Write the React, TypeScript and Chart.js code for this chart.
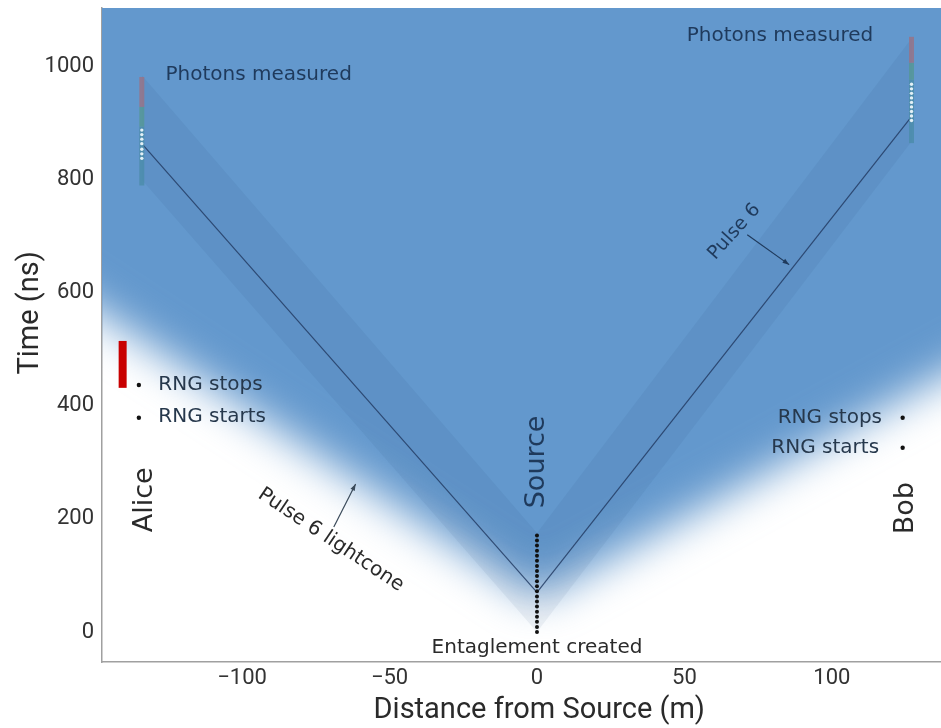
import React, { useEffect, useRef } from 'react';
import { Chart, registerables } from 'chart.js';

Chart.register(...registerables);

// ---- axes ----
const X_MIN = -147.5;
const X_MAX = 137;
const T_MIN = -53;
const T_MAX = 1104;
const xTickValues = [-100, -50, 0, 50, 100];
const tTickValues = [0, 200, 400, 600, 800, 1000];

// ---- pulse 6 lightcone boundary (m, ns) ----
const coneX = [-200, -147, 0, 137, 190];
const coneT = [740, 560, 60, 450, 601];

// ---- photon emission bands ----
const aliceBandX = [-134, 0];
const aliceBandLowT = [800, 0];
const aliceBandHighT = [985, 175];
const bobBandX = [0, 127];
const bobBandLowT = [0, 868];
const bobBandHighT = [175, 1050];

// ---- pulse 6 photon paths ----
const pulseAliceX = [0, -134];
const pulseAliceT = [70, 864];
const pulseBobX = [0, 127];
const pulseBobT = [70, 912];

// ---- source emissions (ns) ----
const sourceT = [0, 9, 18, 27, 36, 45, 54, 63, 72, 81, 90, 99, 108, 117, 126, 135, 144, 153, 162, 171];

// ---- detection columns ----
const ALICE_X = -134;
const BOB_X = 127;
const aliceRedT = [929, 982];
const aliceGreenT = [894, 929];
const aliceTealT = [790, 894];
const aliceLightT = [838, 846, 854, 864, 872, 880, 888];
const bobRedT = [1007, 1053];
const bobGreenT = [977, 1007];
const bobTealT = [865, 977];
const bobLightT = [905, 913, 921, 929, 937, 945, 953, 961, 969];

// ---- random number generators ----
const ALICE_RNG_X = -135;
const aliceRngT = [437, 379];
const BOB_RNG_X = 124;
const bobRngT = [379, 326];
const RED_BAR_X = -140.5;
const redBarT = [432, 515];

// ---- colours ----
const BLUE = 'rgb(99,152,205)';
const NAVY = '#1f3a5c';
const DARK = '#2a2a2a';

const zip = (xs: number[], ts: number[]) => xs.map((x, i) => ({ x, y: ts[i] }));
const column = (x: number, ts: number[]) => ts.map((t) => ({ x, y: t }));

type Note = { text: string; x: number; t: number; align: CanvasTextAlign; size: number; color: string; rot: number };
const notes: Note[] = [
  { text: 'Photons measured', x: -126, t: 986, align: 'left', size: 20, color: NAVY, rot: 0 },
  { text: 'Photons measured', x: 114, t: 1055, align: 'right', size: 20, color: NAVY, rot: 0 },
  { text: 'Alice', x: -133, t: 234, align: 'center', size: 27, color: DARK, rot: -90 },
  { text: 'Bob', x: 125, t: 219, align: 'center', size: 27, color: DARK, rot: -90 },
  { text: 'Source', x: 0, t: 301, align: 'center', size: 27, color: NAVY, rot: -90 },
  { text: 'Entaglement created', x: 0, t: -27, align: 'center', size: 20, color: DARK, rot: 0 },
  { text: 'RNG stops', x: -128.4, t: 437, align: 'left', size: 20, color: '#26384c', rot: 0 },
  { text: 'RNG starts', x: -128.4, t: 381, align: 'left', size: 20, color: '#26384c', rot: 0 },
  { text: 'RNG stops', x: 117, t: 379, align: 'right', size: 20, color: '#26384c', rot: 0 },
  { text: 'RNG starts', x: 116, t: 326, align: 'right', size: 20, color: '#26384c', rot: 0 },
  { text: 'Pulse 6', x: 66.9, t: 708, align: 'center', size: 19, color: NAVY, rot: -48 },
  { text: 'Pulse 6 lightcone', x: -69.9, t: 163, align: 'center', size: 20, color: DARK, rot: 33.7 },
];

type Arrow = { x1: number; t1: number; x2: number; t2: number; color: string };
const arrows: Arrow[] = [
  { x1: -68.9, t1: 186, x2: -61.5, t2: 262, color: '#3a4a5a' },
  { x1: 71.3, t1: 703, x2: 85.5, t2: 650, color: NAVY },
];

function line(data: any[], color: string, width: number, extra: any = {}) {
  return {
    data,
    showLine: true,
    borderColor: color,
    borderWidth: width,
    pointRadius: 0,
    fill: false,
    tension: 0,
    borderCapStyle: 'butt',
    ...extra,
  };
}
function dots(data: any[], color: string, r: number) {
  return {
    data,
    showLine: false,
    pointRadius: r,
    pointBackgroundColor: color,
    pointBorderWidth: 0,
    borderColor: color,
    backgroundColor: color,
    fill: false,
  };
}

const noPad = (s: any) => {
  s.paddingTop = 0;
  s.paddingBottom = 0;
  s.paddingLeft = 0;
  s.paddingRight = 0;
};

export default function App() {
  const ref = useRef<HTMLCanvasElement | null>(null);

  useEffect(() => {
    document.body.style.margin = '0';
    const canvas = ref.current;
    if (!canvas) return;

    const datasets: any[] = [
      dots(column(0, sourceT), '#111', 2),
      dots(column(ALICE_RNG_X, aliceRngT), '#111', 2.2),
      dots(column(BOB_RNG_X, bobRngT), '#111', 2.2),
      line(column(RED_BAR_X, redBarT), '#c80000', 8),
      dots(column(ALICE_X, aliceLightT), 'rgba(235,246,250,0.95)', 1.7),
      dots(column(BOB_X, bobLightT), 'rgba(235,246,250,0.95)', 1.7),
      line(column(ALICE_X, aliceRedT), 'rgba(150,115,135,0.85)', 5),
      line(column(ALICE_X, aliceGreenT), 'rgba(85,150,150,0.85)', 5),
      line(column(ALICE_X, aliceTealT), 'rgba(75,140,170,0.85)', 5),
      line(column(BOB_X, bobRedT), 'rgba(150,115,135,0.85)', 5),
      line(column(BOB_X, bobGreenT), 'rgba(85,150,150,0.85)', 5),
      line(column(BOB_X, bobTealT), 'rgba(75,140,170,0.85)', 5),
      line(zip(pulseAliceX, pulseAliceT), 'rgba(35,60,100,0.85)', 1.2),
      line(zip(pulseBobX, pulseBobT), 'rgba(35,60,100,0.85)', 1.2),
      line(zip(aliceBandX, aliceBandLowT), 'transparent', 0),
      line(zip(aliceBandX, aliceBandHighT), 'transparent', 0, { fill: '-1', backgroundColor: 'rgba(30,60,110,0.065)' }),
      line(zip(bobBandX, bobBandLowT), 'transparent', 0),
      line(zip(bobBandX, bobBandHighT), 'transparent', 0, { fill: '-1', backgroundColor: 'rgba(30,60,110,0.065)' }),
      line(zip(coneX, coneT), 'transparent', 0, { fill: { value: 4000 }, backgroundColor: BLUE }),
    ];
    const CONE_INDEX = datasets.length - 1;

    const blurPlugin = {
      id: 'coneBlur',
      beforeDatasetsDraw(chart: any) {
        chart.ctx.save();
        chart.ctx.filter = 'blur(22px)';
      },
      afterDatasetDraw(chart: any, args: any) {
        if (args.index === CONE_INDEX) chart.ctx.restore();
      },
    };

    const notePlugin = {
      id: 'notes',
      afterDatasetsDraw(chart: any) {
        const { ctx, scales } = chart;
        const xs = scales.x;
        const ys = scales.y;
        ctx.save();
        for (const n of notes) {
          const px = xs.getPixelForValue(n.x);
          const py = ys.getPixelForValue(n.t);
          ctx.save();
          ctx.translate(px, py);
          ctx.rotate((n.rot * Math.PI) / 180);
          ctx.font = `${n.size}px "DejaVu Sans", sans-serif`;
          ctx.fillStyle = n.color;
          ctx.textAlign = n.align;
          ctx.textBaseline = 'middle';
          ctx.fillText(n.text, 0, 0);
          ctx.restore();
        }
        for (const a of arrows) {
          const x1 = xs.getPixelForValue(a.x1);
          const y1 = ys.getPixelForValue(a.t1);
          const x2 = xs.getPixelForValue(a.x2);
          const y2 = ys.getPixelForValue(a.t2);
          ctx.strokeStyle = a.color;
          ctx.fillStyle = a.color;
          ctx.lineWidth = 1.2;
          ctx.beginPath();
          ctx.moveTo(x1, y1);
          ctx.lineTo(x2, y2);
          ctx.stroke();
          const ang = Math.atan2(y2 - y1, x2 - x1);
          const h = 7;
          ctx.beginPath();
          ctx.moveTo(x2, y2);
          ctx.lineTo(x2 - h * Math.cos(ang - 0.35), y2 - h * Math.sin(ang - 0.35));
          ctx.lineTo(x2 - h * Math.cos(ang + 0.35), y2 - h * Math.sin(ang + 0.35));
          ctx.closePath();
          ctx.fill();
        }
        ctx.restore();
      },
    };

    const tickFont = { family: 'Roboto, sans-serif', size: 22 };
    const fmt = (v: any) => String(v).replace('-', '\u2212');

    const chart = new Chart(canvas, {
      type: 'line',
      data: { datasets },
      options: {
        animation: false,
        responsive: false,
        events: [],
        layout: { autoPadding: false, padding: { top: 8, left: 0, right: 0, bottom: 0 } },
        plugins: { legend: { display: false }, tooltip: { enabled: false } },
        scales: {
          x: {
            type: 'linear',
            min: X_MIN,
            max: X_MAX,
            position: 'bottom',
            afterBuildTicks: (s: any) => {
              s.ticks = xTickValues.map((value) => ({ value }));
            },
            afterFit: (s: any) => {
              s.height = 66;
              noPad(s);
            },
            ticks: { font: tickFont, color: '#333', padding: 3, autoSkip: false, maxRotation: 0, callback: fmt },
            grid: { display: false, drawTicks: false },
            border: { display: true, color: '#a0a0a0', width: 1.5 },
            title: {
              display: true,
              text: '\u2003\u2009Distance from Source (m)',
              font: { family: 'Roboto, sans-serif', size: 29 },
              color: '#2a2a2a',
              padding: { top: 0, bottom: 0 },
            },
          },
          x2: {
            type: 'linear',
            min: X_MIN,
            max: X_MAX,
            position: 'top',
            ticks: { display: false },
            grid: { display: false, drawTicks: false },
            border: { display: true, color: '#b8c4cc', width: 1 },
            afterFit: (s: any) => {
              s.height = 0;
              noPad(s);
            },
          },
          y: {
            type: 'linear',
            min: T_MIN,
            max: T_MAX,
            position: 'left',
            afterBuildTicks: (s: any) => {
              s.ticks = tTickValues.map((value) => ({ value }));
            },
            afterFit: (s: any) => {
              s.width = 102;
              noPad(s);
            },
            ticks: { font: tickFont, color: '#333', padding: 8, autoSkip: false, callback: fmt },
            grid: { display: false, drawTicks: false },
            border: { display: true, color: '#a0a0a0', width: 1.5 },
            title: {
              display: true,
              text: '\u2002\u2002\u2002Time (ns)',
              font: { family: 'Roboto, sans-serif', size: 29 },
              color: '#2a2a2a',
              padding: { top: 13, bottom: 0 },
            },
          },
        },
      },
      plugins: [blurPlugin, notePlugin],
    } as any);

    return () => chart.destroy();
  }, []);

  return (
    <div style={{ width: 941, height: 728 }}>
      <canvas ref={ref} width={941} height={728} style={{ display: 'block' }} />
    </div>
  );
}
